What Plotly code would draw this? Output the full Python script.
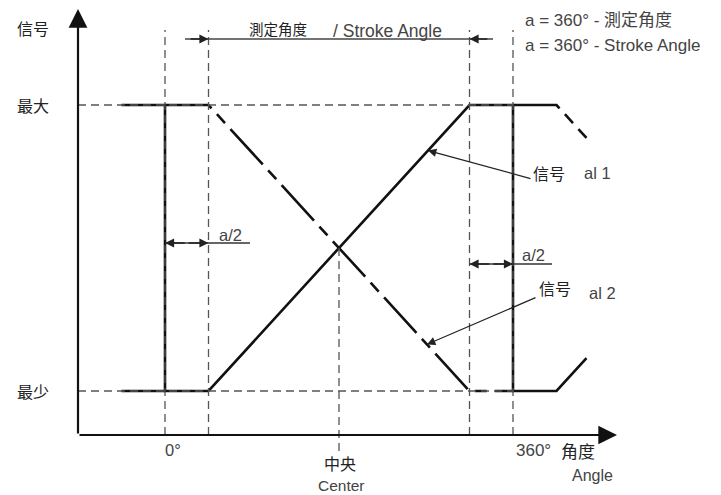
import plotly.graph_objects as go

# ---- data (angles in degrees, signal level 0=最少, 1=最大) ----
signal1_angle = [-45, 0, 0, 45, 315, 360, 360, 405, 436]
signal1_level = [1, 1, 0, 0, 1, 1, 0, 0, 0.115]
signal2_angle = [-45, 0, None, 0, 45, 315, 360, None, 360, 405, 436]
signal2_level = [0, 0, None, 1, 1, 0, 0, None, 1, 1, 0.885]
ref_angles = [0, 45, 315, 360]          # dashed verticals
center_angle = [180]
level_labels = ["最少", "最大"]
level_values = [0, 1]
tick_labels = ["0°", "360°"]
tick_values = [0, 360]

# page-pixel -> data mapping (page has an 8px body margin)
OFF = 8
PX_PER_DEG = 348 / 360.0
X0_PX = 165
PX_PER_LVL = 286.0
Y0_PX = 391
PAGE_W, PAGE_H = 721, 495
W, H = PAGE_W - OFF, PAGE_H - OFF


def deg(px):
    return (px - X0_PX) / PX_PER_DEG


def lvl(py):
    return (Y0_PX - py) / PX_PER_LVL


x_range = [deg(OFF), deg(PAGE_W)]
y_range = [lvl(PAGE_H), lvl(OFF)]

AX_Y = lvl(435)       # x-axis level
AX_X = deg(78)        # y-axis angle
TOP = lvl(30)

FONT = "Liberation Sans, Arial, Noto Sans CJK SC, sans-serif"
CJK = "Noto Sans CJK SC, sans-serif"

fig = go.Figure()

# thin dashed reference lines
for a in ref_angles:
    fig.add_shape(type="line", x0=a, x1=a, y0=AX_Y, y1=TOP,
                  line=dict(color="#555", width=1.3, dash="8px,5px"))
fig.add_shape(type="line", x0=center_angle[0], x1=center_angle[0], y0=0.5,
              y1=lvl(452), line=dict(color="#555", width=1.3, dash="8px,5px"))
for lv in level_values:
    fig.add_shape(type="line", x0=AX_X, x1=360, y0=lv, y1=lv,
                  line=dict(color="#555", width=1.3, dash="8px,5px"))

# signals
fig.add_trace(go.Scatter(x=signal2_angle, y=signal2_level, mode="lines",
                         connectgaps=False,
                         line=dict(color="#111", width=2.6, dash="48px,8px,12px,8px"),
                         hoverinfo="skip", showlegend=False))
fig.add_trace(go.Scatter(x=signal1_angle, y=signal1_level, mode="lines",
                         line=dict(color="#111", width=2.6),
                         hoverinfo="skip", showlegend=False))

# axes with arrows
fig.add_annotation(x=deg(617), y=AX_Y, ax=AX_X, ay=AX_Y, xref="x", yref="y",
                   axref="x", ayref="y", showarrow=True, arrowhead=2,
                   arrowsize=1.7, arrowwidth=2.2, arrowcolor="#111", text="")
fig.add_annotation(x=AX_X, y=lvl(9), ax=AX_X, ay=AX_Y, xref="x", yref="y",
                   axref="x", ayref="y", showarrow=True, arrowhead=2,
                   arrowsize=1.7, arrowwidth=2.2, arrowcolor="#111", text="")


def arrow(x, y, ax, ay, width=1.3, size=1.4):
    fig.add_annotation(x=x, y=y, ax=ax, ay=ay, xref="x", yref="y",
                       axref="x", ayref="y", showarrow=True, arrowhead=2,
                       arrowsize=size, arrowwidth=width, arrowcolor="#222", text="")


def seg(x0, y0, x1, y1, width=1.3, color="#333"):
    fig.add_shape(type="line", x0=x0, y0=y0, x1=x1, y1=y1,
                  line=dict(color=color, width=width))


# stroke angle dimension
SL = lvl(39)
seg(deg(185), SL, deg(493), SL, width=1.6, color="#444")
arrow(45, SL, 25, SL)
arrow(315, SL, 335, SL)

# a/2 dimensions
AL = lvl(243)
seg(0, AL, deg(250), AL)
arrow(0, AL, 22, AL)
arrow(45, AL, 23, AL)
AR = lvl(264)
seg(315, AR, deg(552), AR)
arrow(315, AR, 337, AR)
arrow(360, AR, 338, AR)

# leaders
arrow(272, (272 - 45) / 270, deg(532), lvl(179), width=1.2)
arrow(271, 1 - (271 - 45) / 270, deg(537), lvl(297), width=1.2)


def text(s, x, y, size=16.5, color="#444", family=FONT, xanchor="center"):
    fig.add_annotation(x=x, y=y, xref="x", yref="y", text=s, showarrow=False,
                       font=dict(size=size, color=color, family=family),
                       xanchor=xanchor, yanchor="middle")


def cjk(s, x, y, size=16):
    text(s, x, y, size=size, color="#222", family=CJK)


cjk("信号", deg(33), lvl(28))
for lab, v in zip(level_labels, level_values):
    cjk(lab, deg(33), v)
text(tick_labels[0], deg(173), lvl(450))
text(tick_labels[1], deg(533), lvl(450), size=17)
cjk("中央", deg(340), lvl(463))
text("Center", deg(341), lvl(485), size=15.5)
cjk("角度", deg(578), lvl(450), size=17)
text("Angle", deg(592), lvl(475), size=16)
cjk("測定角度", deg(278), lvl(28), size=14.5)
text("/ Stroke Angle", deg(387), lvl(31), size=17.5)
text("a = 360° - 測定角度", deg(523), lvl(20), size=17, xanchor="left")
text("a = 360° - Stroke Angle", deg(523), lvl(45), size=17, xanchor="left")
text("a/2", deg(230), lvl(235))
text("a/2", deg(533), lvl(255))
cjk("信号", deg(549), lvl(173))
text("al 1", deg(597), lvl(173))
cjk("信号", deg(555), lvl(288))
text("al 2", deg(602), lvl(293))

fig.update_layout(
    width=W, height=H, autosize=False,
    margin=dict(l=0, r=0, t=0, b=0),
    paper_bgcolor="white", plot_bgcolor="white",
    xaxis=dict(range=x_range, visible=False, fixedrange=True),
    yaxis=dict(range=y_range, visible=False, fixedrange=True),
    showlegend=False,
)
fig.write_html("out.html")
